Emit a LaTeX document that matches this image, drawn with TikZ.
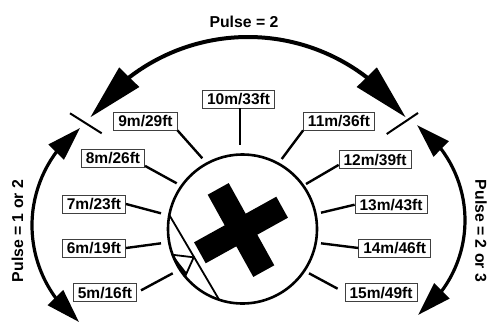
\documentclass[tikz,border=0pt]{standalone}
\usepackage{fontspec}
\setmainfont{Liberation Sans}
\usetikzlibrary{arrows.meta,bending}
\begin{document}
\begin{tikzpicture}[x=1pt,y=1pt,
  lbl/.style={draw=black!75, line width=0.8pt, font=\bfseries\fontsize{15.5}{18}\selectfont,
    inner xsep=4.5pt, inner ysep=3.5pt, text height=11pt, text depth=0pt, fill=white},
  spoke/.style={line width=2.4pt},
  ring/.style={line width=2.6pt},
  pulse/.style={font=\bfseries\fontsize{15.8}{18}\selectfont, inner sep=0pt},
  bigarc/.style={line width=4pt, {Triangle[length=56pt,width=27pt]}-{Triangle[length=56pt,width=27pt]}},
  sidearc/.style={line width=3.2pt, {Triangle[length=34pt,width=21pt]}-{Triangle[length=34pt,width=21pt]}},
  tickmark/.style={line width=2pt},
  thinline/.style={line width=1.8pt}
]
\useasboundingbox (0,0) rectangle (494,-324);

% centres
\coordinate (cc) at (242.5,-229);
\coordinate (tc) at (248,-232);
\coordinate (lc) at (154.8,-225.4);
\coordinate (rc) at (346.25,-220.4);

% arcs with arrows
\draw[bigarc] ([shift={(36:195)}]tc) arc[start angle=36, end angle=144, radius=195];
\draw[sidearc] ([shift={(127.5:122.8)}]lc) arc[start angle=127.5, end angle=231.9, radius=122.8];
\draw[sidearc] ([shift={(53.4:118.75)}]rc) arc[start angle=53.4, end angle=-52.8, radius=118.75];

% pulse texts
\node[pulse] (p2) at (244,-22) {Pulse = 2};
\node[pulse, rotate=90] (p12) at (17.5,-231) {Pulse = 1 or 2};
\node[pulse, rotate=-90] (p23) at (481,-231) {Pulse = 2 or 3};

% tick marks at arc ends
\coordinate (tla) at (70,-113.3);
\coordinate (tlb) at (101.7,-133.3);
\coordinate (tra) at (386.7,-134);
\coordinate (trb) at (418,-113);
\draw[tickmark] (tla) -- (tlb);
\draw[tickmark] (tra) -- (trb);

% circle with cross
\draw[ring] (cc) circle[radius=74.5];
\fill[shift={(241,-230)}, rotate=29]
  (-12,47) -- (12,47) -- (12,12) -- (47,12) -- (47,-12) -- (12,-12) -- (12,-47)
  -- (-12,-47) -- (-12,-12) -- (-47,-12) -- (-47,12) -- (-12,12) -- cycle;

% chord and small triangle
\coordinate (ch1) at (169.3,-215.0);
\coordinate (ch2) at (219.1,-299.7);
\draw[thinline] (ch1) -- (ch2);
\coordinate (ttl) at (172.6,-254.8);
\coordinate (ttr) at (193.7,-257.3);
\coordinate (tbt) at (185.1,-276.5);
\coordinate (tin) at (186.5,-272.5);
\draw[thinline] (ttl) -- (ttr) -- (tbt);
\fill (ttl) -- (tin) -- (tbt) arc[start angle=219.6, end angle=200.3, radius=74.5] -- cycle;
\draw[line width=2pt] (ttl) -- (tbt);

% labels
\node[lbl] (l10) at (238.5,-99) {10m/33ft};
\node[lbl] (l9) at (145.5,-121) {9m/29ft};
\node[lbl] (l8) at (113,-158) {8m/26ft};
\node[lbl] (l7) at (94,-204) {7m/23ft};
\node[lbl] (l6) at (94,-248) {6m/19ft};
\node[lbl] (l5) at (105,-292.5) {5m/16ft};
\node[lbl] (l11) at (339,-121) {11m/36ft};
\node[lbl] (l12) at (375,-159.5) {12m/39ft};
\node[lbl] (l13) at (391,-204.7) {13m/43ft};
\node[lbl] (l14) at (394.7,-248) {14m/46ft};
\node[lbl] (l15) at (381,-292.5) {15m/49ft};

% spoke inner ends
\coordinate (e10) at (240,-145);
\coordinate (e9) at (202.3,-158.3);
\coordinate (e8) at (176.7,-183.3);
\coordinate (e7) at (161,-213.3);
\coordinate (e6) at (161,-243.3);
\coordinate (e5) at (172.7,-273.3);
\coordinate (e11) at (281.7,-159);
\coordinate (e12) at (306,-184);
\coordinate (e13) at (321,-212.7);
\coordinate (e14) at (321,-243.3);
\coordinate (e15) at (309,-273.3);

\draw[spoke] (e10 |- l10.south) -- (e10);
\draw[spoke] (l9.south east) -- (e9);
\draw[spoke] ([yshift=1.5pt]l8.south east) -- (e8);
\draw[spoke] (l7.east) -- (e7);
\draw[spoke] (l6.east) -- (e6);
\draw[spoke, shorten <=4.5pt] (l5.east) -- (e5);
\draw[spoke] (l11.south west) -- (e11);
\draw[spoke] ([yshift=4pt]l12.south west) -- (e12);
\draw[spoke] (l13.west) -- (e13);
\draw[spoke] (l14.west) -- (e14);
\draw[spoke, shorten <=8pt] (l15.west) -- (e15);
\end{tikzpicture}
\end{document}
